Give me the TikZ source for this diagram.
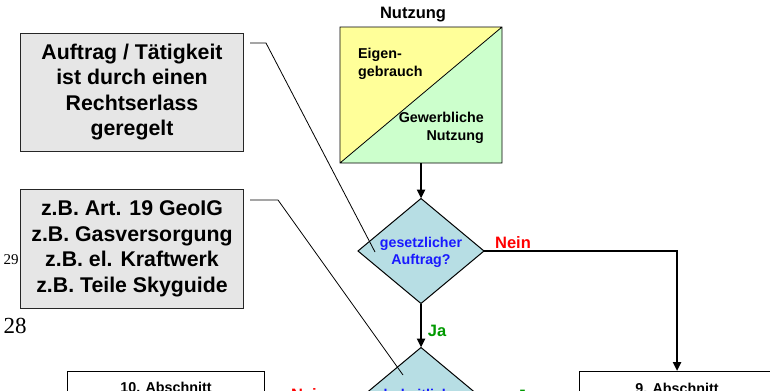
\documentclass[tikz,border=0pt]{standalone}
\usepackage{fontspec}
\setmainfont{Liberation Sans}
\newfontfamily\seitenzahl{Liberation Serif}
\usepackage{xcolor}
\usepackage{tikz}
\usetikzlibrary{shapes,arrows,positioning,calc,arrows.meta}

\definecolor{boxgrau}{RGB}{230,230,230}
\definecolor{eigengelb}{RGB}{255,255,153}
\definecolor{gewerbegruen}{RGB}{204,255,204}
\definecolor{rautenblau}{RGB}{183,222,228}
\definecolor{fragenblau}{RGB}{25,25,255}
\definecolor{neinrot}{RGB}{255,0,0}
\definecolor{jagruen}{RGB}{0,153,0}

\tikzset{
    infobox/.style={draw=black!85, line width=1bp, fill=boxgrau, minimum width=222bp,
        minimum height=118bp, inner sep=0pt, outer sep=0pt, align=center,
        font=\fontsize{21.3bp}{25.5bp}\selectfont\bfseries},
    frage/.style={diamond, draw, line width=1bp, fill=rautenblau, minimum width=126bp,
        minimum height=105bp, inner sep=0pt, outer sep=0pt, shape aspect=1.2},
    fragetext/.style={align=center, inner sep=0pt, text=fragenblau,
        font=\fontsize{14.2bp}{17bp}\selectfont\bfseries},
    abschnitt/.style={draw, line width=1bp, minimum width=196bp, minimum height=58bp,
        inner sep=0pt, outer sep=0pt},
    klein/.style={font=\fontsize{14.3bp}{17.5bp}\selectfont\bfseries, inner sep=0pt},
    nein/.style={text=neinrot, font=\fontsize{16.5bp}{18bp}\selectfont\bfseries, inner sep=0pt},
    ja/.style={text=jagruen, font=\fontsize{16.5bp}{18bp}\selectfont\bfseries, inner sep=0pt},
    fluss/.style={line width=2.5bp, -{Triangle[length=9bp,width=8bp]}},
    hinweis/.style={line width=0.8bp}
}

\begin{document}
\begin{tikzpicture}[x=1bp, y=-1bp]
    \useasboundingbox (0,0) rectangle (770,390);

    % Seitenzahlen
    \node[font=\seitenzahl\fontsize{15bp}{15bp}\selectfont, inner sep=0pt] (s29) at (11,260) {29};
    \node[font=\seitenzahl\fontsize{23bp}{23bp}\selectfont, inner sep=0pt] (s28) at (15,326) {28};

    % Erklaerungen links
    \node[infobox] (erlass) at (132,92) {Auftrag / Tätigkeit\\ist durch einen\\Rechtserlass\\geregelt};
    \node[infobox, minimum height=119bp] (beispiel) at (132,249) {z.B. Art. 19 GeoIG\\z.B. Gasversorgung\\z.B. el. Kraftwerk\\z.B. Teile Skyguide};

    % Nutzung
    \node[minimum width=162bp, minimum height=136bp, inner sep=0pt, outer sep=0pt] (nutz) at (421,95) {};
    \fill[eigengelb] (nutz.south west) -- (nutz.north west) -- (nutz.north east) -- cycle;
    \fill[gewerbegruen] (nutz.south west) -- (nutz.south east) -- (nutz.north east) -- cycle;
    \draw[line width=0.8bp] (nutz.south west) rectangle (nutz.north east)
        (nutz.south west) -- (nutz.north east);
    \node[font=\fontsize{16.5bp}{18bp}\selectfont\bfseries, inner sep=0pt] (nutztitel) at (413,15) {Nutzung};
    \node[klein, anchor=west, align=left] (eigen) at (358,64) {Eigen-\\gebrauch};
    \node[klein, anchor=east, align=right] (gewerbe) at (484,128) {Gewerbliche\\Nutzung};

    % Fragen
    \node[frage] (auftrag) at (421,251) {};
    \node[fragetext] (auftragtext) at (421,252) {gesetzlicher\\Auftrag?};
    \node[frage] (hoheit) at (421,400) {};
    \node[fragetext] (hoheittext) at (421,404) {hoheitliche\\Tätigkeit?};

    % Abschnitte
    \node[abschnitt] (ab10) at (166,400) {};
    \node[klein] (ab10text) at (166,387) {10. Abschnitt};
    \node[abschnitt] (ab9) at (677,400) {};
    \node[klein] (ab9text) at (677,388) {9. Abschnitt};

    % Pfeile
    \draw[fluss] (nutz.south) -- (auftrag.north);
    \draw[fluss] (auftrag.south) -- (hoheit.north);
    \draw[fluss] (auftrag.east) -| (ab9.north);
    \draw[fluss] (hoheit.west) -- (ab10.east);
    \draw[fluss] (hoheit.east) -- (ab9.west);

    \node[nein] (nein1) at (513,243) {Nein};
    \node[ja] (ja1) at (437,331) {Ja};
    \node[nein] (nein2) at (309,395) {Nein};
    \node[ja] (ja2) at (526,396) {Ja};

    % Hinweislinien
    \coordinate (h1a) at (250,43);
    \coordinate (h1b) at (266,43);
    \coordinate (h1c) at (375,252);
    \coordinate (h2a) at (250,200);
    \coordinate (h2b) at (278,200);
    \coordinate (h2c) at (403,375);
    \draw[hinweis] (h1a) -- (h1b) -- (h1c);
    \draw[hinweis] (h2a) -- (h2b) -- (h2c);

\end{tikzpicture}
\end{document}
